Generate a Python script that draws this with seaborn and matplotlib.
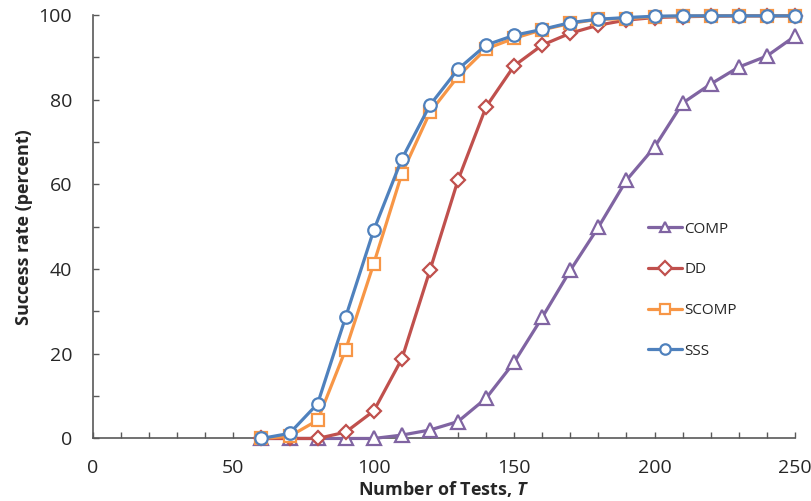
import numpy as np
import pandas as pd
import matplotlib
matplotlib.use("Agg")
import matplotlib.pyplot as plt
import seaborn as sns
from matplotlib.ticker import MultipleLocator

# values
tests = [60, 70, 80, 90, 100, 110, 120, 130, 140, 150,
         160, 170, 180, 190, 200, 210, 220, 230, 240, 250]
comp = [0, 0, 0, 0, 0, 0.8, 2, 4, 9.5, 18,
        28.6, 39.7, 49.9, 61, 68.8, 79.2, 83.7, 87.7, 90.3, 95]
dd = [0, 0, 0, 1.5, 6.5, 18.8, 39.7, 61, 78.3, 88,
      92.9, 95.7, 97.6, 98.8, 99.4, 99.6, 99.7, 99.8, 99.8, 99.8]
scomp = [0, 0.5, 4.3, 21, 41.3, 62.5, 77, 85.5, 92, 94.5,
         96.5, 98, 99, 99.1, 99.6, 99.7, 99.8, 99.8, 99.8, 99.8]
sss = [0, 1.2, 8.2, 28.7, 49.2, 66, 78.7, 87.2, 92.9, 95.2,
       96.6, 98.2, 99, 99.4, 99.7, 99.8, 99.8, 99.8, 99.8, 99.8]

names = ["COMP", "DD", "SCOMP", "SSS"]
colors = ["#8064A2", "#C0504D", "#F79646", "#4F81BD"]
markers = ["^", "D", "s", "o"]
msizes = [9.5, 7, 8.5, 9]

df = pd.DataFrame({"T": tests * 4,
                   "rate": comp + dd + scomp + sss,
                   "alg": sum([[n] * len(tests) for n in names], [])})

sns.set_style("white")
plt.rcParams["font.family"] = ["Open Sans", "DejaVu Sans"]
plt.rcParams["mathtext.fontset"] = "custom"
plt.rcParams["mathtext.bfit"] = "Open Sans:bold:italic"

fig = plt.figure(figsize=(8.12, 5.01), dpi=100)
ax = fig.add_axes([0.1145, 0.1248, 0.8645, 0.8453])

for name, c, m, ms in zip(names, colors, markers, msizes):
    sub = df[df["alg"] == name]
    sns.lineplot(data=sub, x="T", y="rate", ax=ax, color=c, lw=2.3,
                 marker=m, markersize=ms, markerfacecolor="white",
                 markeredgecolor=c, markeredgewidth=1.6, label=name,
                 clip_on=False, zorder=3)

ax.set_xlim(0, 250)
ax.set_ylim(0, 100)
ax.xaxis.set_major_locator(MultipleLocator(50))
ax.xaxis.set_minor_locator(MultipleLocator(10))
ax.yaxis.set_major_locator(MultipleLocator(20))
ax.yaxis.set_minor_locator(MultipleLocator(10))
ax.tick_params(which="both", direction="in", length=4.5, width=1,
               color="#595959", bottom=True, left=True)
ax.tick_params(which="major", labelsize=14, labelcolor="#262626", pad=15)
for s in ["top", "right"]:
    ax.spines[s].set_visible(False)
for s in ["left", "bottom"]:
    ax.spines[s].set_color("#595959")
    ax.spines[s].set_linewidth(1.2)

ax.set_xlabel("Number of Tests, $\\mathbfit{T}$", fontsize=13,
              fontweight="bold", labelpad=1)
ax.set_ylabel("Success rate (percent)", fontsize=13, fontweight="bold",
              labelpad=4)

leg = ax.legend(loc="upper left", bbox_to_anchor=(0.7906, 0.512),
                frameon=False, fontsize=11, borderpad=0, borderaxespad=0,
                handlelength=2.2, labelspacing=1.68, handletextpad=0.2)
for h in leg.legend_handles:
    h.set_markersize(7.5)

fig.savefig("out.png", dpi=100)
